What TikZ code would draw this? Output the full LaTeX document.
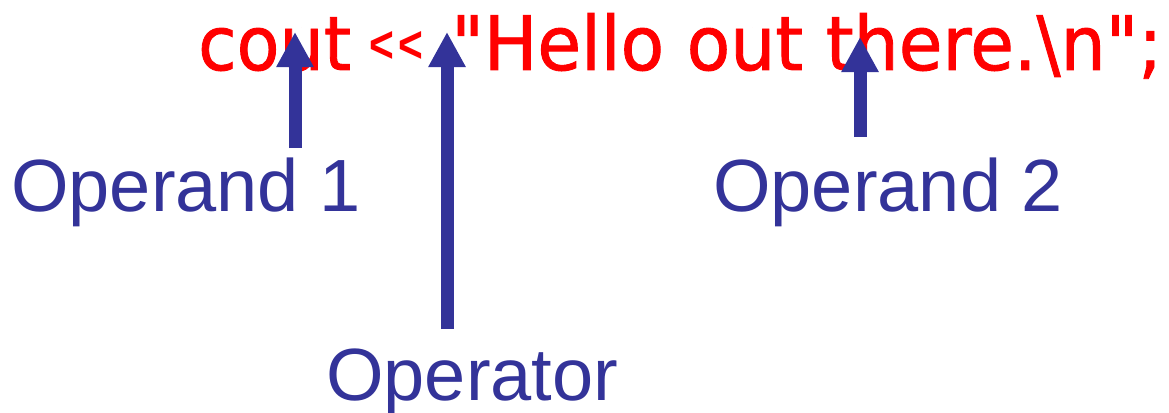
\documentclass[tikz,border=0pt]{standalone}
\usepackage{fontspec}
\setmainfont{Liberation Sans}
\newfontfamily\codefont[Ligatures=NoCommon,FakeBold=1.2]{DejaVu Sans}
\newfontfamily\chevfont[Ligatures=NoCommon]{Liberation Sans Bold}
\usetikzlibrary{arrows.meta}
\definecolor{lblue}{HTML}{333399}
\definecolor{cred}{HTML}{FF0000}
\tikzset{
  label/.style={inner sep=0pt, anchor=base west, text=lblue, font=\fontsize{74}{80}\selectfont},
  code/.style={inner sep=0pt, anchor=base west, text=cred, font=\codefont\fontsize{75}{80}\selectfont},
  pointer/.style={draw=lblue, line width=13pt, -{Triangle[width=35pt,length=35pt]}}
}
\begin{document}
\begin{tikzpicture}[x=1pt,y=-1pt]
\useasboundingbox (0,0) rectangle (1169,412);
\node[code] (cout) at (198,70) {\resizebox{153pt}{\height}{cout}};
\node[code, anchor=center, font=\chevfont\fontsize{58}{60}\selectfont] (shift) at (396,47) {\resizebox{54pt}{31pt}{<\kern6pt<}};
\node[code] (msg) at (451,70) {\resizebox{711pt}{\height}{"Hello out there.\textbackslash n";}};
\node[label] (op1) at (11,211) {Operand 1};
\node[label] (op2) at (713,211) {Operand 2};
\node[label] (oper) at (326,400) {Operator};
\coordinate (t1) at (295,148);
\coordinate (h1) at (295,32);
\coordinate (t2) at (447,329);
\coordinate (h2) at (447,32);
\coordinate (t3) at (860,137);
\coordinate (h3) at (860,37);
\draw[pointer] (t1) -- (h1);
\draw[pointer] (t2) -- (h2);
\draw[pointer] (t3) -- (h3);
\end{tikzpicture}
\end{document}
